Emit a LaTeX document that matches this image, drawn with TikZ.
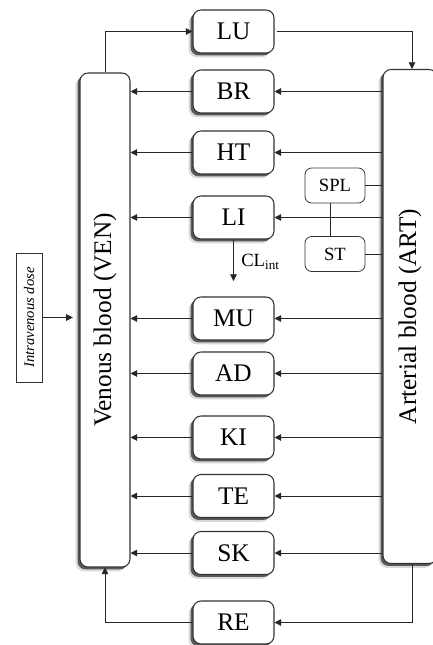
\documentclass[tikz,border=0pt]{standalone}
\usepackage{graphicx}
\usepackage{fontspec}
\setmainfont{Liberation Serif}
\usetikzlibrary{arrows.meta,shadows}

\begin{document}
\begin{tikzpicture}[x=0.75pt,y=0.75pt,yscale=-1,xscale=1,
    organ/.style={draw=black!80, line width=0.8pt, rounded corners=6pt, fill=white,
      minimum width=60.75pt, minimum height=32.25pt, inner sep=0pt,
      font=\fontsize{19}{22}\selectfont,
      drop shadow={shadow xshift=-3.2pt, shadow yshift=-3.2pt, fill=black!15, opacity=1},
      drop shadow={shadow xshift=-1.8pt, shadow yshift=-1.8pt, fill=black!65, opacity=1}},
    pool/.style={organ, minimum width=37.5pt, minimum height=370.5pt},
    gland/.style={draw=black!80, line width=0.6pt, rounded corners=5pt, fill=white,
      minimum width=45pt, minimum height=26.25pt, inner sep=0pt,
      font=\fontsize{14}{16}\selectfont},
    dosebox/.style={draw=black!80, line width=0.6pt, minimum width=19.5pt,
      minimum height=96.75pt, inner sep=0pt, font=\fontsize{11}{13}\selectfont\itshape},
    flow/.style={draw=black!85, line width=0.6pt, -{Triangle[length=5pt,width=5pt]}},
    link/.style={draw=black!85, line width=0.6pt}]
    \useasboundingbox (0,0) rectangle (432,645);

    % Blood pools
    \node [pool] (VEN) at (105,320) {\rotatebox{90}{Venous blood (VEN)}};
    \node [pool, minimum width=40.5pt] (ART) at (410,316.5) {\rotatebox{90}{Arterial blood (ART)}};

    % Organs
    \node [organ] (LU) at (233.5,31.5) {LU};
    \node [organ] (BR) at (233.5,91.5) {BR};
    \node [organ] (HT) at (233.5,152.5) {HT};
    \node [organ] (LI) at (233.5,217.5) {LI};
    \node [organ] (MU) at (233.5,318.5) {MU};
    \node [organ] (AD) at (233.5,373.5) {AD};
    \node [organ] (KI) at (233.5,437.5) {KI};
    \node [organ] (TE) at (233.5,496) {TE};
    \node [organ] (SK) at (233.5,553) {SK};
    \node [organ] (RE) at (233.5,622.5) {RE};

    % Spleen and stomach
    \node [gland] (SPL) at (335,185.5) {SPL};
    \node [gland] (ST) at (335,254) {ST};

    % Dose
    \node [dosebox] (dose) at (29,317.5) {\rotatebox{90}{Intravenous dose}};

    % Lung loop
    \draw [flow] (VEN.north) |- (LU.west);
    \draw [flow] ([xshift=1.5pt]LU.east) -| ([xshift=1.5pt]ART.north);

    % Arterial to organ
    \draw [flow] (BR.east -| ART.west) -- (BR.east);
    \draw [flow] (HT.east -| ART.west) -- (HT.east);
    \draw [link] ([xshift=-3.75pt]SPL.south) -- ([xshift=-3.75pt]ST.north);
    \draw [link] (SPL.east) -- (SPL.east -| ART.west);
    \draw [link] (ST.east) -- (ST.east -| ART.west);
    \draw [flow] (LI.east -| ART.west) -- (LI.east);
    \draw [flow] (MU.east -| ART.west) -- (MU.east);
    \draw [flow] (AD.east -| ART.west) -- (AD.east);
    \draw [flow] (KI.east -| ART.west) -- (KI.east);
    \draw [flow] (TE.east -| ART.west) -- (TE.east);
    \draw [flow] (SK.east -| ART.west) -- (SK.east);

    % Organ to venous
    \draw [flow] (BR.west) -- (BR.west -| VEN.east);
    \draw [flow] (HT.west) -- (HT.west -| VEN.east);
    \draw [flow] (LI.west) -- (LI.west -| VEN.east);
    \draw [flow] (MU.west) -- (MU.west -| VEN.east);
    \draw [flow] (AD.west) -- (AD.west -| VEN.east);
    \draw [flow] (KI.west) -- (KI.west -| VEN.east);
    \draw [flow] (TE.west) -- (TE.west -| VEN.east);
    \draw [flow] (SK.west) -- (SK.west -| VEN.east);

    % Rest of body
    \draw [flow] ([xshift=1.5pt]ART.south) |- (RE.east);
    \draw [flow] (RE.west) -| (VEN.south);

    % Liver clearance
    \coordinate (clend) at (233.5,281);
    \draw [flow] (LI.south) -- (clend);
    \node [anchor=west, inner sep=0.75pt, font=\fontsize{14}{16}\selectfont] (CL) at (240,262) {CL\textsubscript{int}};

    % Intravenous dose
    \draw [flow, shorten >=5pt] (dose.east) -- (dose.east -| VEN.west);
\end{tikzpicture}
\end{document}
